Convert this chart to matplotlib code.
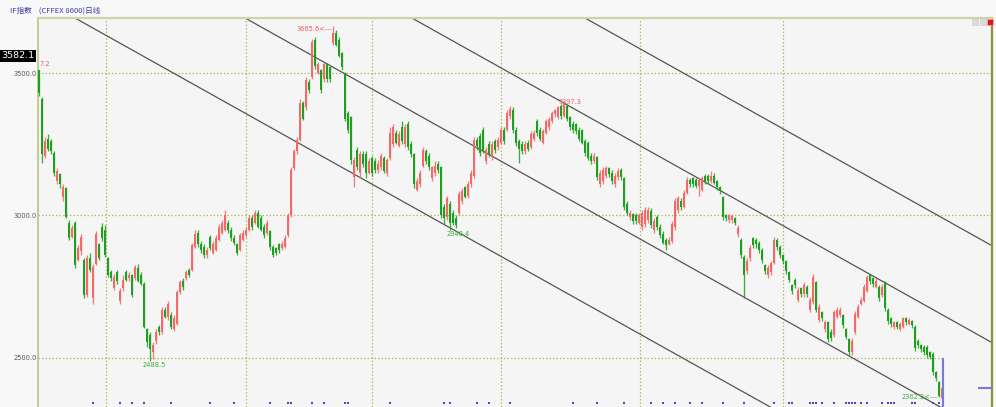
import numpy as np
import matplotlib
matplotlib.use("Agg")
import matplotlib.pyplot as plt
from matplotlib.patches import Rectangle
from matplotlib.transforms import blended_transform_factory

plt.rcParams['font.family'] = ['DejaVu Sans', 'Noto Sans CJK SC']

# daily bars of IF index (one value per bar)
opens = [3510, 3410, 3210, 3270, 3260, 3220, 3120, 3145, 3065, 3095,
         2975, 2925, 2975, 2845, 2875, 2845, 2720, 2850, 2710, 2830,
         2900, 2960, 2950, 2850, 2800, 2745, 2800, 2700, 2745, 2800,
         2780, 2790, 2780, 2815, 2790, 2760, 2600, 2580, 2520, 2560,
         2610, 2590, 2670, 2645, 2650, 2600, 2620, 2730, 2770, 2780,
         2810, 2810, 2890, 2940, 2900, 2890, 2860, 2925, 2870, 2880,
         2915, 2940, 2950, 2975, 2950, 2920, 2900, 2880, 2915, 2930,
         2950, 2990, 2975, 3010, 2990, 2960, 2940, 2945, 2890, 2885,
         2900, 2885, 2890, 2930, 3000, 3165, 3225, 3265, 3395, 3380,
         3470, 3485, 3615, 3500, 3510, 3480, 3530, 3520, 3605, 3640,
         3615, 3570, 3500, 3360, 3345, 3135, 3230, 3150, 3215, 3215,
         3150, 3200, 3190, 3160, 3170, 3200, 3150, 3200, 3250, 3290,
         3245, 3310, 3250, 3320, 3250, 3215, 3090, 3110, 3175, 3225,
         3210, 3130, 3150, 3180, 3170, 3030, 2995, 3040, 3010, 2990,
         3010, 3050, 3100, 3070, 3110, 3140, 3265, 3280, 3300, 3190,
         3250, 3210, 3260, 3240, 3255, 3300, 3300, 3350, 3370, 3300,
         3260, 3250, 3225, 3255, 3240, 3270, 3330, 3300, 3255, 3290,
         3310, 3330, 3355, 3345, 3385, 3350, 3385, 3345, 3320, 3320,
         3300, 3300, 3260, 3255, 3210, 3190, 3205, 3110, 3120, 3140,
         3165, 3150, 3110, 3135, 3160, 3130, 3040, 2995, 3005, 3000,
         2975, 2960, 2970, 2985, 3015, 2950, 2995, 2960, 2935, 2915,
         2900, 2910, 2960, 3020, 3050, 3030, 3080, 3125, 3130, 3125,
         3105, 3090, 3140, 3140, 3120, 3140, 3120, 3100, 3065, 3000,
         2985, 2985, 2990, 2935, 2915, 2855, 2805, 2850, 2920, 2915,
         2905, 2880, 2825, 2790, 2800, 2835, 2915, 2890, 2860, 2840,
         2800, 2755, 2775, 2705, 2745, 2725, 2750, 2670, 2695, 2765,
         2635, 2660, 2600, 2625, 2590, 2580, 2645, 2650, 2650, 2600,
         2565, 2520, 2590, 2645, 2690, 2700, 2735, 2790, 2780, 2750,
         2750, 2720, 2765, 2670, 2640, 2610, 2625, 2600, 2610, 2640,
         2620, 2630, 2610, 2560, 2545, 2540, 2540, 2520, 2515, 2450,
         2415, 2360]
highs = [3512, 3415, 3275, 3285, 3270, 3225, 3165, 3150, 3110, 3100,
         2985, 2965, 2980, 2895, 2935, 2850, 2860, 2870, 2830, 2945,
         2905, 2975, 2965, 2855, 2810, 2795, 2810, 2745, 2790, 2810,
         2800, 2795, 2825, 2830, 2800, 2765, 2605, 2590, 2555, 2600,
         2615, 2680, 2680, 2700, 2660, 2650, 2740, 2775, 2780, 2810,
         2815, 2905, 2950, 2950, 2910, 2900, 2890, 2930, 2910, 2930,
         2970, 2985, 3020, 2985, 2960, 2930, 2905, 2940, 2950, 2960,
         3000, 3000, 3020, 3020, 3000, 2970, 2985, 2950, 2895, 2890,
         2905, 2910, 2930, 3010, 3170, 3235, 3275, 3410, 3400, 3485,
         3480, 3620, 3625, 3540, 3515, 3540, 3535, 3525, 3665.6, 3650,
         3625, 3575, 3505, 3365, 3350, 3205, 3240, 3225, 3225, 3225,
         3200, 3210, 3200, 3195, 3220, 3210, 3200, 3310, 3320, 3300,
         3295, 3330, 3320, 3330, 3260, 3220, 3130, 3160, 3240, 3235,
         3220, 3175, 3190, 3190, 3175, 3040, 3070, 3050, 3020, 3000,
         3085, 3095, 3105, 3120, 3160, 3275, 3275, 3290, 3310, 3240,
         3260, 3260, 3270, 3275, 3310, 3310, 3370, 3385, 3380, 3310,
         3270, 3260, 3260, 3265, 3295, 3300, 3340, 3310, 3305, 3340,
         3345, 3365, 3375, 3385, 3390, 3397.3, 3390, 3350, 3330, 3325,
         3310, 3305, 3270, 3260, 3220, 3220, 3210, 3160, 3170, 3175,
         3170, 3160, 3150, 3165, 3165, 3135, 3050, 3020, 3010, 3010,
         3010, 3020, 3030, 3030, 3025, 2990, 3000, 2970, 2945, 2920,
         2925, 2980, 3060, 3070, 3060, 3090, 3135, 3130, 3135, 3130,
         3130, 3140, 3145, 3145, 3155, 3150, 3125, 3105, 3070, 3005,
         3005, 3005, 2995, 2965, 2920, 2860, 2850, 2895, 2925, 2920,
         2910, 2885, 2830, 2825, 2840, 2925, 2920, 2895, 2865, 2845,
         2805, 2760, 2780, 2750, 2750, 2765, 2755, 2715, 2795, 2770,
         2690, 2665, 2635, 2630, 2600, 2670, 2680, 2680, 2655, 2605,
         2570, 2570, 2665, 2690, 2715, 2760, 2790, 2795, 2785, 2780,
         2755, 2760, 2770, 2675, 2645, 2630, 2630, 2625, 2645, 2645,
         2640, 2635, 2615, 2565, 2550, 2545, 2545, 2525, 2520, 2455,
         2420, 2400]
lows = [3420, 3185, 3200, 3225, 3215, 3140, 3110, 3095, 3050, 2990,
        2915, 2920, 2815, 2840, 2860, 2710, 2715, 2800, 2690, 2825,
        2845, 2910, 2855, 2785, 2770, 2740, 2760, 2690, 2735, 2770,
        2770, 2715, 2775, 2765, 2755, 2605, 2540, 2488.5, 2495, 2550,
        2580, 2585, 2640, 2635, 2600, 2595, 2615, 2725, 2740, 2775,
        2785, 2805, 2885, 2890, 2870, 2850, 2850, 2880, 2865, 2875,
        2910, 2935, 2945, 2940, 2910, 2895, 2860, 2875, 2910, 2925,
        2945, 2950, 2970, 2955, 2945, 2920, 2930, 2880, 2855, 2860,
        2870, 2880, 2885, 2925, 2995, 3160, 3215, 3260, 3335, 3370,
        3430, 3480, 3515, 3495, 3430, 3470, 3470, 3470, 3600, 3595,
        3555, 3510, 3330, 3290, 3180, 3100, 3160, 3130, 3170, 3130,
        3145, 3140, 3150, 3150, 3160, 3150, 3140, 3195, 3240, 3250,
        3240, 3250, 3240, 3230, 3205, 3095, 3085, 3100, 3170, 3180,
        3160, 3120, 3140, 3150, 2990, 2970, 2985, 2948.4, 2965, 2955,
        3000, 3040, 3060, 3060, 3100, 3130, 3230, 3210, 3220, 3180,
        3205, 3195, 3220, 3230, 3250, 3250, 3295, 3340, 3290, 3245,
        3185, 3215, 3215, 3225, 3235, 3260, 3280, 3260, 3250, 3285,
        3300, 3325, 3345, 3340, 3340, 3345, 3330, 3300, 3290, 3285,
        3260, 3250, 3210, 3195, 3180, 3185, 3125, 3100, 3110, 3130,
        3135, 3110, 3100, 3125, 3125, 3020, 3000, 2985, 2970, 2970,
        2970, 2950, 2960, 2975, 2955, 2940, 2950, 2920, 2900, 2880,
        2895, 2905, 2950, 3010, 3020, 3025, 3075, 3100, 3100, 3095,
        3070, 3085, 3110, 3110, 3115, 3110, 3090, 3075, 2985, 2980,
        2975, 2975, 2965, 2925, 2850, 2710, 2795, 2840, 2885, 2885,
        2870, 2835, 2795, 2780, 2790, 2830, 2880, 2850, 2830, 2795,
        2765, 2725, 2745, 2695, 2715, 2715, 2715, 2660, 2690, 2660,
        2625, 2630, 2590, 2555, 2560, 2575, 2640, 2645, 2605, 2565,
        2510, 2510, 2585, 2640, 2685, 2695, 2730, 2760, 2750, 2745,
        2700, 2715, 2665, 2620, 2610, 2600, 2600, 2595, 2605, 2615,
        2615, 2605, 2525, 2535, 2520, 2510, 2500, 2495, 2440, 2420,
        2362.2, 2355]
closes = [3430, 3215, 3260, 3235, 3225, 3150, 3155, 3110, 3100, 2995,
          2920, 2955, 2825, 2885, 2925, 2720, 2850, 2810, 2820, 2935,
          2850, 2920, 2860, 2790, 2780, 2785, 2770, 2735, 2775, 2775,
          2790, 2720, 2820, 2770, 2760, 2610, 2555, 2530, 2545, 2590,
          2590, 2670, 2645, 2690, 2610, 2640, 2730, 2765, 2750, 2800,
          2790, 2895, 2935, 2900, 2880, 2860, 2880, 2885, 2900, 2920,
          2960, 2975, 3000, 2950, 2920, 2905, 2870, 2930, 2940, 2950,
          2990, 2960, 3010, 2960, 2950, 2930, 2975, 2890, 2860, 2870,
          2880, 2900, 2920, 3000, 3160, 3225, 3265, 3395, 3340, 3475,
          3440, 3610, 3525, 3530, 3440, 3530, 3480, 3480, 3640, 3600,
          3560, 3520, 3340, 3300, 3195, 3195, 3170, 3215, 3180, 3150,
          3190, 3150, 3160, 3180, 3210, 3155, 3195, 3290, 3310, 3255,
          3285, 3260, 3310, 3240, 3215, 3110, 3120, 3150, 3230, 3190,
          3170, 3170, 3175, 3160, 3000, 2990, 3060, 2975, 2975, 2965,
          3075, 3085, 3065, 3110, 3150, 3265, 3245, 3220, 3230, 3230,
          3215, 3250, 3230, 3265, 3300, 3260, 3360, 3375, 3300, 3255,
          3235, 3225, 3250, 3235, 3285, 3290, 3290, 3270, 3295, 3330,
          3340, 3360, 3370, 3380, 3350, 3390, 3340, 3310, 3300, 3295,
          3270, 3255, 3220, 3200, 3190, 3210, 3135, 3150, 3160, 3165,
          3145, 3120, 3140, 3155, 3135, 3030, 3010, 3010, 2980, 2980,
          3000, 3010, 3020, 3020, 2965, 2980, 2960, 2930, 2905, 2895,
          2915, 2970, 3050, 3060, 3030, 3080, 3125, 3110, 3110, 3105,
          3125, 3130, 3120, 3120, 3140, 3115, 3100, 3085, 2995, 2990,
          3000, 2998, 2975, 2955, 2860, 2790, 2840, 2885, 2895, 2900,
          2880, 2845, 2805, 2815, 2835, 2915, 2890, 2860, 2840, 2805,
          2775, 2735, 2755, 2740, 2725, 2755, 2725, 2705, 2785, 2670,
          2680, 2640, 2625, 2565, 2570, 2660, 2670, 2670, 2615, 2575,
          2520, 2560, 2655, 2680, 2705, 2750, 2785, 2770, 2760, 2770,
          2710, 2750, 2675, 2630, 2620, 2625, 2610, 2620, 2640, 2625,
          2635, 2615, 2535, 2545, 2530, 2520, 2510, 2505, 2450, 2430,
          2365, 2395]

price_ticks = [2500.0, 3000.0, 3500.0]
month_marks = [22.3, 69, 111, 154, 200.3, 248]
event_bars = [18, 27, 31, 35, 44, 57, 65, 77, 83, 84, 91, 95, 102, 103, 117,
              135, 137, 146, 150, 157, 178, 186, 195, 204, 208, 212, 217, 221,
              228, 235, 245, 250, 251, 257, 258, 259, 261, 265, 269, 270, 271,
              272, 274, 276, 281, 283, 284, 285, 291, 292, 298, 300]
# parallel channel lines: price at bar 0 and common slope per bar
channel_start = [3763.7, 4097.6, 4425.0, 4765.0]
channel_slope = -5.89

fig = plt.figure(figsize=(9.96, 4.07), dpi=100, facecolor='#f8f8f8')
ax = fig.add_axes([38 / 996, 0, 954 / 996, 389 / 407])
ax.set_facecolor('#f5f5f5')
ax.set_xlim(-0.33, 317.67)
ax.set_ylim(2328, 3693)

x = np.arange(len(closes))
o = np.array(opens, float)
c = np.array(closes, float)
up = c > o
col = np.where(up, '#f46868', '#1f9f1f')

grid_kw = dict(color='#b8b860', lw=0.9, linestyle=(0, (1.2, 1.6)))
for p in price_ticks[1:]:
    ax.axhline(p, **grid_kw, zorder=1)
ax.hlines(price_ticks[0], -0.33, x[-1] + 0.3, **grid_kw, zorder=1)
for m in month_marks:
    ax.axvline(m, **grid_kw, zorder=1)

xs = np.array([-2.0, 320.0])
for s in channel_start:
    ax.plot(xs, s + channel_slope * xs, color='#555555', lw=0.9, zorder=2)

ax.vlines(x, lows, highs, colors=col, lw=0.95, alpha=0.85, zorder=3)
ax.bar(x, np.maximum(np.abs(c - o), 3), bottom=np.minimum(o, c), width=0.72,
       color=col, linewidth=0, zorder=4)

# small markers along the bottom
trans = blended_transform_factory(ax.transData, ax.transAxes)
ax.scatter(event_bars, np.full(len(event_bars), 0.011), s=2.2, marker='s',
           color='#4646c6', linewidths=0, transform=trans, zorder=5)

ax.vlines(x[-1] + 0.4, 2328, price_ticks[0], color='#7a7ad6', lw=1.5, zorder=5)
ax.hlines(closes[-1], 313, 317.67, color='#7a7ad6', lw=1.5, zorder=5)

# high / low annotations
red_txt = '#f05a5a'
grn_txt = '#3aaa3a'
i_hi = int(np.argmax(highs))
ax.text(i_hi - 0.3, highs[i_hi], f'{highs[i_hi]:.1f}<---', color=red_txt,
        fontsize=4.8, ha='right', va='top', zorder=6)
i2 = 175
ax.text(i2 + 2, highs[i2], f'{highs[i2]:.1f}', color=red_txt, fontsize=4.8,
        ha='center', va='center', zorder=6)
i3 = 137
ax.text(i3 - 1, lows[i3] - 3, f'{lows[i3]:.1f}', color=grn_txt, fontsize=4.8,
        ha='left', va='top', zorder=6)
i4 = 37
ax.text(i4 - 2.6, lows[i4] - 3, f'{lows[i4]:.1f}', color=grn_txt, fontsize=4.8,
        ha='left', va='top', zorder=6)
i5 = 300
ax.text(i5 - 0.4, lows[i5], f'{lows[i5]:.1f}<---', color=grn_txt,
        fontsize=4.8, ha='right', va='center', zorder=6)
ax.text(0.1, 3531, '7.2', color=red_txt, fontsize=4.8, ha='left',
        va='center', zorder=6)

ax.set_xticks([])
ax.set_yticks(price_ticks)
ax.set_yticklabels([f'{p:.1f}' for p in price_ticks])
ax.tick_params(axis='y', length=0, labelsize=4.8, labelcolor='#555555', pad=1)

ax.spines['bottom'].set_visible(False)
ax.spines['left'].set_color('#c4c488')
ax.spines['left'].set_linewidth(1.3)
ax.spines['top'].set_color('#d2d2aa')
ax.spines['top'].set_linewidth(1.6)
ax.spines['right'].set_color('#8e8e3e')
ax.spines['right'].set_linewidth(1.6)

fig.text(1 / 996, 1 - 56 / 407, '3582.1', color='white', fontsize=6.8,
         ha='left', va='center',
         bbox=dict(facecolor='black', edgecolor='none', pad=1.3))
fig.text(10 / 996, 1 - 11 / 407, 'IF指数    (CFFEX 8600)日线', color='#3a3aa8',
         fontsize=5.5, ha='left', va='center',
         family=['Noto Sans CJK SC', 'DejaVu Sans'])

for x0, fc in [(972, '#dcdcdc'), (980, '#dcdcdc'), (987, '#ee1111')]:
    fig.add_artist(Rectangle((x0 / 996, 1 - 25 / 407), 5.5 / 996, 6 / 407,
                             transform=fig.transFigure, facecolor=fc,
                             edgecolor='#c8c8c8', lw=0.4))

fig.savefig('out.png', dpi=100, facecolor=fig.get_facecolor())
